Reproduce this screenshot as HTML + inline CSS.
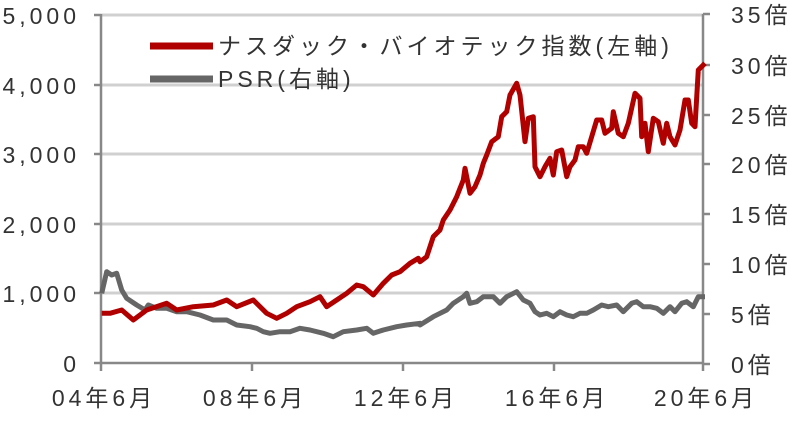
<!DOCTYPE html>
<html><head><meta charset="utf-8"><style>
body{margin:0;background:#fff;}
svg text{font-family:"Liberation Sans","Noto Sans CJK JP",sans-serif;fill:#333;font-size:23px;letter-spacing:4px;}
</style></head><body>
<svg id="s" width="797" height="416" xmlns="http://www.w3.org/2000/svg">
<g stroke="#d0d0d0" stroke-width="3">
<line x1="101" y1="15" x2="703" y2="15"/>
<line x1="101" y1="85" x2="703" y2="85"/>
<line x1="101" y1="154" x2="703" y2="154"/>
<line x1="101" y1="224" x2="703" y2="224"/>
<line x1="101" y1="293" x2="703" y2="293"/>
</g>
<g stroke="#888" stroke-width="2.5">
<line x1="101" y1="14" x2="101" y2="364"/>
<line x1="94" y1="15" x2="101" y2="15"/><line x1="94" y1="85" x2="101" y2="85"/><line x1="94" y1="154" x2="101" y2="154"/><line x1="94" y1="224" x2="101" y2="224"/><line x1="94" y1="293" x2="101" y2="293"/><line x1="94" y1="363" x2="101" y2="363"/>
<line x1="703" y1="14" x2="703" y2="364"/>
<line x1="703" y1="14" x2="710" y2="14"/><line x1="703" y1="65" x2="710" y2="65"/><line x1="703" y1="115" x2="710" y2="115"/><line x1="703" y1="164" x2="710" y2="164"/><line x1="703" y1="214" x2="710" y2="214"/><line x1="703" y1="264" x2="710" y2="264"/><line x1="703" y1="314" x2="710" y2="314"/><line x1="703" y1="364" x2="710" y2="364"/>
<line x1="101" y1="363" x2="703" y2="363"/>
<line x1="101" y1="363" x2="101" y2="371"/><line x1="252" y1="363" x2="252" y2="371"/><line x1="403" y1="363" x2="403" y2="371"/><line x1="554" y1="363" x2="554" y2="371"/><line x1="703" y1="363" x2="703" y2="371"/>
</g>
<g text-anchor="end">
<text x="80" y="24">5,000</text><text x="80" y="94">4,000</text><text x="80" y="163">3,000</text><text x="80" y="233">2,000</text><text x="80" y="302">1,000</text><text x="80" y="372">0</text>
</g>
<g>
<text x="731" y="23">35倍</text><text x="731" y="74">30倍</text><text x="731" y="124">25倍</text><text x="731" y="173">20倍</text><text x="731" y="223">15倍</text><text x="731" y="273">10倍</text><text x="731" y="323">5倍</text><text x="731" y="373">0倍</text>
</g>
<g text-anchor="middle" style="letter-spacing:6px">
<text x="104" y="406">04年6月</text><text x="255" y="406">08年6月</text><text x="406" y="406">12年6月</text><text x="557" y="406">16年6月</text><text x="706" y="406">20年6月</text>
</g>
<line x1="150" y1="46" x2="213" y2="46" stroke="#b00000" stroke-width="7"/>
<text x="218" y="54">ナスダック・バイオテック指数(左軸)</text>
<line x1="150" y1="79" x2="213" y2="79" stroke="#666" stroke-width="7"/>
<text x="218" y="87">PSR(右軸)</text>
<polyline id="g" fill="none" stroke="#666" stroke-width="5" stroke-linejoin="round"/>
<polyline id="r" fill="none" stroke="#b00000" stroke-width="5" stroke-linejoin="round"/>
</svg>
<script>
function cv(a,ox,oy){var o=[];for(var i=0;i<a.length;i+=2)o.push((ox+a[i]/3).toFixed(1)+","+(oy+a[i+1]/3).toFixed(1));return o;}
var r1=[35,160,60,160,95,150,130,180,170,150,230,130,260,150,310,140,370,135,410,120,440,140,490,120,505,135,530,160,560,175,590,160,620,140,660,125,690,110,710,140,740,120,770,100,800,75,820,80,850,105,880,70,905,45,930,35,960,10,985,-5];
var r2=[0,665,20,650,40,590,60,570,70,540,90,510,110,470,130,420,135,385,150,460,165,440,180,405,190,370,200,345,215,305,235,290,245,230,260,215,270,165,290,130,300,165,315,305,325,235,340,230,345,380,360,410,375,380,390,355,400,405,410,335,425,330,440,410,450,380,465,360,475,320,490,320,500,340,515,290,530,240,545,240,555,280,575,265,580,215,595,280,610,290,625,250,645,160,660,175,665,290,675,250,685,335,700,235,715,245,730,310,740,250,750,290,765,315,780,270,795,180,805,180,815,250,825,260,835,90,855,70];
var g1=[35,100,50,35,65,45,80,40,95,90,110,115,140,135,165,150,175,135,200,145,230,145,260,155,290,155,330,165,370,180,410,180,440,195,480,200,500,205,520,215,540,220,570,215,600,215,630,205,660,210,700,220,730,230,760,215,800,210,830,205,850,220,880,210,920,200,950,195,990,190];
var g2=[0,855,40,830,80,810,100,790,130,770,140,760,150,790,170,785,190,770,220,770,240,790,260,770,290,755,310,780,330,790,345,815,360,825,380,820,400,830,420,815,440,825,460,830,480,820,500,820,520,810,545,795,565,800,590,795,610,815,635,790,650,785,670,800,690,800,710,805,730,820,750,800,765,815,785,790,800,785,820,800,835,770,855,770];
document.getElementById('r').setAttribute('points',cv(r1,90,260).concat(cv(r2,420,40)).join(' '));
document.getElementById('g').setAttribute('points',cv(g1,90,260).concat(cv(g2,420,40)).join(' '));
</script>
</body></html>
